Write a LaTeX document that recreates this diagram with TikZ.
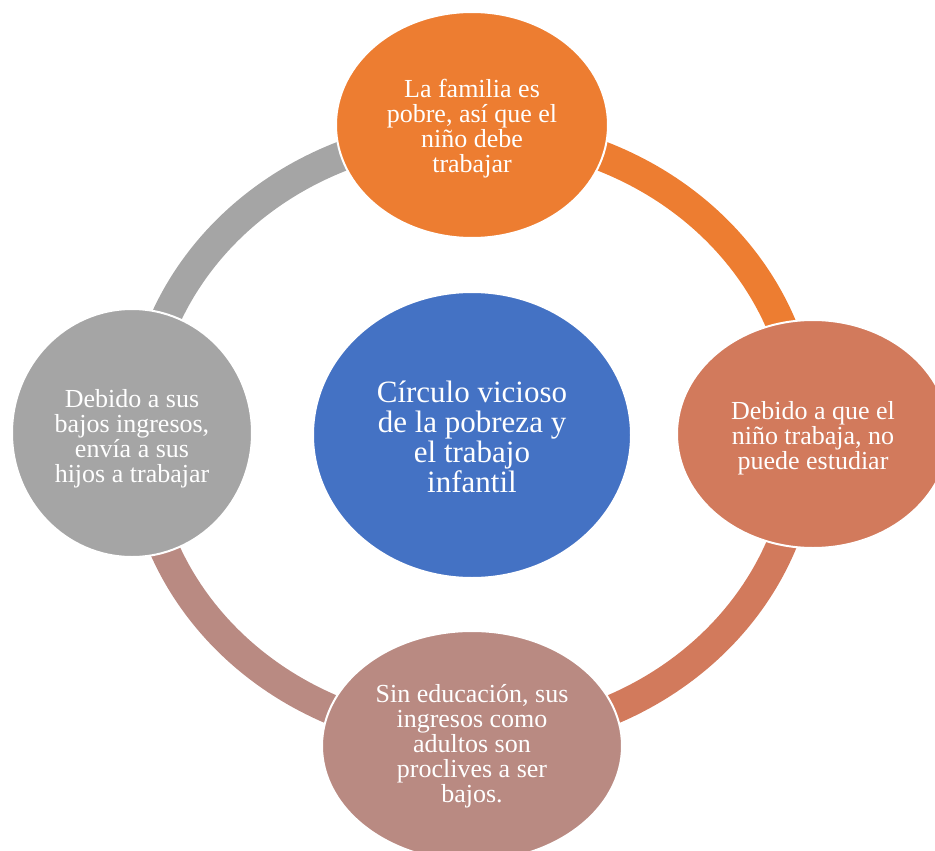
\documentclass[tikz,border=0pt]{standalone}
\usepackage{fontspec}
\setmainfont{Liberation Serif}
\usetikzlibrary{shapes.geometric}
\definecolor{cOrange}{HTML}{ED7D31}
\definecolor{cTerra}{HTML}{D27A5C}
\definecolor{cRose}{HTML}{B98A82}
\definecolor{cGray}{HTML}{A5A5A5}
\definecolor{cBlue}{HTML}{4472C4}
\tikzset{
  ringseg/.style={line width=30pt, line cap=butt},
  bubble/.style={ellipse, draw=white, line width=2pt, inner sep=0pt},
  lbl/.style={text=white, align=center, inner sep=0pt, font=\fontsize{26}{25}\selectfont},
  hublbl/.style={text=white, align=center, inner sep=0pt, font=\fontsize{31}{30}\selectfont}
}
\begin{document}
\begin{tikzpicture}[x=1pt,y=-1pt]
\useasboundingbox (0,0) rectangle (935,851);
\clip (0,0) rectangle (935,851);
\coordinate (c) at (472,435);
% ring segments
\draw[ringseg, cOrange] (c) ++(-95:332 and 303) arc[start angle=-95, end angle=5, x radius=332, y radius=303];
\draw[ringseg, cTerra] (c) ++(-5:332 and 303) arc[start angle=-5, end angle=95, x radius=332, y radius=303];
\draw[ringseg, cRose] (c) ++(85:332 and 303) arc[start angle=85, end angle=185, x radius=332, y radius=303];
\draw[ringseg, cGray] (c) ++(175:332 and 303) arc[start angle=175, end angle=275, x radius=332, y radius=303];
% hub
\node[bubble, fill=cBlue, minimum width=318pt, minimum height=286pt] (hub) at (472,435) {};
\node[hublbl] (hubt) at ([yshift=-2pt]hub.center) {Círculo vicioso\\de la pobreza y\\el trabajo\\infantil};
% bubbles
\node[bubble, fill=cOrange, minimum width=272pt, minimum height=226pt] (top) at (472,125) {};
\node[lbl] (topt) at ([yshift=-4pt]top.center) {La familia es\\pobre, así que el\\niño debe\\trabajar};
\node[bubble, fill=cTerra, minimum width=272pt, minimum height=228pt] (right) at (813,434) {};
\node[lbl] (rightt) at ([yshift=-4pt]right.center) {Debido a que el\\niño trabaja, no\\puede estudiar};
\node[bubble, fill=cRose, minimum width=300pt, minimum height=230pt] (bottom) at (472,746) {};
\node[lbl] (bottomt) at (bottom.center) {Sin educación, sus\\ingresos como\\adultos son\\proclives a ser\\bajos.};
\node[bubble, fill=cGray, minimum width=240pt, minimum height=248pt] (left) at (132,433) {};
\node[lbl] (leftt) at ([yshift=-6pt]left.center) {Debido a sus\\bajos ingresos,\\envía a sus\\hijos a trabajar};
\end{tikzpicture}
\end{document}
